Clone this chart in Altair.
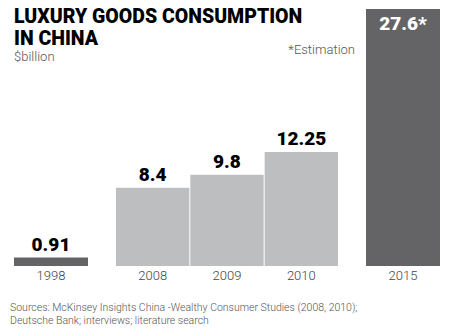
import altair as alt
import pandas as pd

years = ["1998", "2008", "2009", "2010", "2015"]
values = [0.91, 8.4, 9.8, 12.25, 27.6]
labels = ["0.91", "8.4", "9.8", "12.25", "27.6*"]
groups = ["a", "b", "b", "b", "c"]
colors = ["#646466", "#BDBEC0", "#BDBEC0", "#BDBEC0", "#646466"]

title_lines = ["LUXURY GOODS CONSUMPTION", "IN CHINA"]
unit_text = "$billion"
note_text = "*Estimation"
source_lines = [
    "Sources: McKinsey Insights China -Wealthy Consumer Studies (2008, 2010);",
    "Deutsche Bank; interviews; literature search",
]

df = pd.DataFrame({"year": years, "value": values, "label": labels,
                   "group": groups, "color": colors})

FONT = "Roboto"
H = 257
STEP = 74


def panel(g, extra=None, inside=False):
    sub = df[df.group == g]
    base = alt.Chart(sub).encode(
        x=alt.X("year:N", title=None,
                scale=alt.Scale(paddingInner=0.0135, paddingOuter=0),
                axis=alt.Axis(ticks=False, domain=False, labelAngle=0,
                              labelFontSize=13, labelFont=FONT,
                              labelFontWeight=300, labelColor="#444",
                              labelPadding=3)),
        y=alt.Y("value:Q", title=None, axis=None,
                scale=alt.Scale(domain=[0, 27.6], nice=False)),
    )
    bars = base.mark_bar().encode(color=alt.Color("color:N", scale=None))
    if inside:
        txt = base.mark_text(baseline="top", dy=6, font=FONT, fontWeight=900,
                             fontSize=19, color="white").encode(text="label:N")
    else:
        txt = base.mark_text(baseline="bottom", dy=-3, font=FONT, fontWeight=900,
                             fontSize=19, color="black").encode(text="label:N")
    layers = [bars, txt]
    if extra:
        layers += extra
    return alt.layer(*layers).properties(width=STEP * len(sub), height=H)


one = pd.DataFrame({"k": [0]})
title_mark = alt.Chart(one).mark_text(
    text=title_lines, align="left", baseline="alphabetic", font=FONT,
    fontWeight=900, fontSize=19.5, lineHeight=21.5, color="black"
).encode(x=alt.value(0), y=alt.value(14))
unit_mark = alt.Chart(one).mark_text(
    text=unit_text, align="left", baseline="alphabetic", font=FONT,
    fontWeight=300, fontSize=13, color="#555"
).encode(x=alt.value(0), y=alt.value(52))
source_mark = alt.Chart(one).mark_text(
    text=source_lines, align="left", baseline="alphabetic", font=FONT,
    fontWeight=300, fontSize=10.5, lineHeight=12.5, color="#555"
).encode(x=alt.value(-4), y=alt.value(302))
note_mark = alt.Chart(one).mark_text(
    text=note_text, align="right", baseline="alphabetic", font=FONT,
    fontWeight=300, fontSize=13, color="#555"
).encode(x=alt.value(-11), y=alt.value(45))

chart = alt.hconcat(
    panel("a", [title_mark, unit_mark, source_mark]),
    panel("b"),
    panel("c", [note_mark], inside=True),
    spacing=28, bounds="flush",
).properties(
    padding={"left": 10, "top": 7, "right": 0, "bottom": 0},
    background="white",
).configure_view(stroke=None)

chart.save("out.html", embed_options={"renderer": "svg", "actions": False})
